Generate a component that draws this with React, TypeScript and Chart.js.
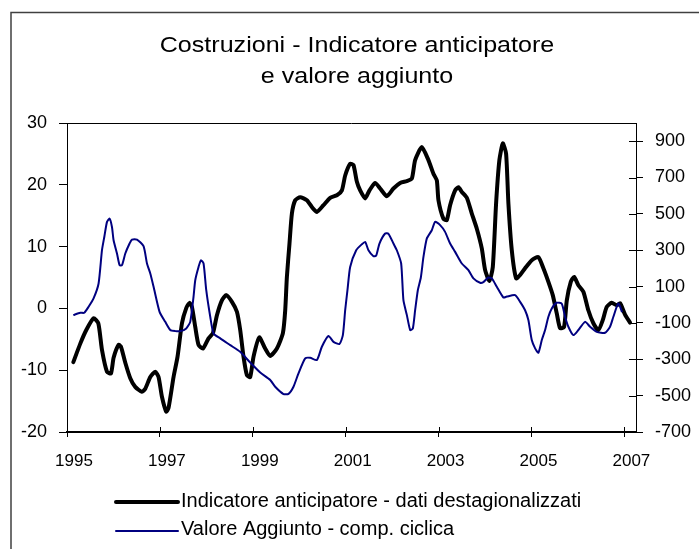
import React, { useEffect, useRef } from "react";
import { Chart, registerables } from "chart.js";

Chart.register(...registerables);

const TITLE_LINES = ["Costruzioni - Indicatore anticipatore", "e valore aggiunto"];
const LEGEND_LABELS = [
  "Indicatore anticipatore - dati destagionalizzati",
  "Valore Aggiunto - comp. ciclica",
];
const YEAR_TICKS = [1995, 1997, 1999, 2001, 2003, 2005, 2007];
const LEFT_TICKS = [-20, -10, 0, 10, 20, 30];
const RIGHT_TICKS = [-700, -500, -300, -100, 100, 300, 500, 700, 900];

// Indicatore anticipatore (left axis)
const indicatorDates = [
  1995.136, 1995.286, 1995.415, 1995.572, 1995.674, 1995.753, 1995.861, 1995.947,
  1996.003, 1996.11, 1996.162, 1996.255, 1996.362, 1996.469, 1996.614, 1996.685,
  1996.793, 1996.9, 1996.971, 1997.044, 1997.137, 1997.186, 1997.294, 1997.38,
  1997.475, 1997.567, 1997.638, 1997.69, 1997.761, 1997.832, 1997.927, 1998.047,
  1998.142, 1998.228, 1998.335, 1998.428, 1998.551, 1998.658, 1998.729, 1998.8,
  1998.873, 1998.944, 1999.016, 1999.14, 1999.267, 1999.375, 1999.519, 1999.648,
  1999.698, 1999.734, 1999.79, 1999.842, 1999.913, 2000.02, 2000.165, 2000.272,
  2000.38, 2000.522, 2000.666, 2000.81, 2000.918, 2000.989, 2001.096, 2001.167,
  2001.241, 2001.312, 2001.419, 2001.512, 2001.634, 2001.742, 2001.886, 2002.028,
  2002.172, 2002.317, 2002.424, 2002.495, 2002.639, 2002.781, 2002.889, 2002.962,
  2002.997, 2003.104, 2003.177, 2003.248, 2003.356, 2003.427, 2003.5, 2003.608,
  2003.715, 2003.823, 2003.93, 2004.002, 2004.094, 2004.167, 2004.238, 2004.309,
  2004.382, 2004.453, 2004.503, 2004.576, 2004.669, 2004.755, 2004.862, 2005.006,
  2005.148, 2005.256, 2005.364, 2005.458, 2005.544, 2005.615, 2005.701, 2005.76,
  2005.846, 2005.917, 2006.009, 2006.117, 2006.224, 2006.332, 2006.44, 2006.534,
  2006.62, 2006.728, 2006.836, 2006.907, 2007.014, 2007.122,
];
const indicatorValues = [
  -8.7, -5.7, -3.5, -1.6, -2.4, -6.7, -10.25, -10.5,
  -8.0, -5.9, -6.2, -8.8, -11.3, -12.7, -13.5, -13.0,
  -11.1, -10.25, -11.1, -14.3, -16.7, -16.1, -11.1, -7.8,
  -2.4, 0.05, 0.9, 0.25, -3.0, -5.9, -6.5, -4.85,
  -4.0, -1.1, 1.3, 2.15, 1.06, -0.55, -3.5, -7.8,
  -10.8, -11.1, -7.8, -4.7, -6.5, -7.7, -6.5, -4.0,
  -0.3, 5.1, 10.5, 15.35, 17.5, 18.0, 17.5, 16.4,
  15.6, 16.7, 17.9, 18.3, 19.1, 21.5, 23.4, 23.2,
  20.5, 19.1, 17.8, 19.1, 20.3, 19.4, 18.15, 19.4,
  20.3, 20.6, 21.0, 24.0, 26.1, 24.0, 21.8, 20.7,
  17.5, 14.5, 14.3, 16.7, 19.1, 19.6, 18.85, 17.9,
  15.35, 12.9, 9.7, 6.2, 4.45, 6.7, 17.0, 24.0,
  26.7, 25.05, 17.0, 9.4, 4.85, 5.4, 6.5, 7.8,
  8.3, 6.5, 4.3, 2.15, -0.8, -3.2, -3.0, 1.3,
  4.3, 5.1, 3.75, 2.7, -0.3, -2.4, -3.5, -1.9,
  0.25, 0.9, 0.5, 0.85, -1.0, -2.3,
];

// Valore aggiunto - componente ciclica (right axis)
const valueAddedDates = [
  1995.136, 1995.286, 1995.372, 1995.465, 1995.572, 1995.68, 1995.753, 1995.803,
  1995.861, 1995.917, 1995.968, 1996.003, 1996.076, 1996.132, 1996.184, 1996.255,
  1996.347, 1996.399, 1996.506, 1996.648, 1996.722, 1996.793, 1996.864, 1996.993,
  1997.115, 1997.223, 1997.33, 1997.438, 1997.567, 1997.653, 1997.724, 1997.761,
  1997.832, 1997.884, 1997.94, 1997.998, 1998.084, 1998.155, 1998.299, 1998.514,
  1998.729, 1998.944, 1999.16, 1999.375, 1999.482, 1999.661, 1999.769, 1999.876,
  1999.984, 2000.128, 2000.236, 2000.38, 2000.487, 2000.63, 2000.737, 2000.866,
  2000.939, 2000.989, 2001.038, 2001.096, 2001.226, 2001.348, 2001.419, 2001.49,
  2001.598, 2001.656, 2001.727, 2001.85, 2001.921, 2002.028, 2002.101, 2002.194,
  2002.243, 2002.317, 2002.388, 2002.446, 2002.495, 2002.553, 2002.618, 2002.674,
  2002.747, 2002.854, 2002.925, 2003.033, 2003.14, 2003.248, 2003.356, 2003.5,
  2003.642, 2003.75, 2003.894, 2003.965, 2004.072, 2004.146, 2004.253, 2004.395,
  2004.468, 2004.647, 2004.755, 2004.862, 2004.933, 2005.006, 2005.078, 2005.148,
  2005.222, 2005.293, 2005.364, 2005.437, 2005.544, 2005.652, 2005.723, 2005.794,
  2005.902, 2006.009, 2006.153, 2006.261, 2006.405, 2006.584, 2006.691, 2006.763,
  2006.87, 2006.95,
];
const valueAddedValues = [
  -57, -44, -44, -11, 35, 117, 300, 373,
  456, 474, 428, 355, 282, 218, 218, 282,
  337, 359, 359, 322, 227, 172, 99, -39,
  -94, -139, -145, -145, -130, -94, 44, 135,
  208, 245, 227, 80, -66, -158, -185, -222,
  -259, -318, -373, -414, -451, -491, -490, -451,
  -377, -295, -292, -304, -231, -172, -204, -216,
  -167, -30, 80, 208, 300, 333, 346, 300,
  267, 270, 337, 392, 390, 337, 300, 227,
  25, -57, -139, -130, -30, 80, 150, 263,
  365, 410, 456, 438, 401, 337, 291, 227,
  190, 145, 121, 125, 150, 145, 99, 40,
  45, 53, 16, -30, -84, -194, -240, -264,
  -194, -139, -66, -20, 11, 6, -66, -121,
  -167, -139, -94, -121, -149, -154, -121, -66,
  7, -40,
];

const FONT = '"Liberation Sans", Arial, sans-serif';

export default function App() {
  const ref = useRef<HTMLCanvasElement | null>(null);

  useEffect(() => {
    const canvas = ref.current;
    if (!canvas) return;

    const decor = {
      id: "decor",
      beforeDraw(chart: any) {
        const ctx = chart.ctx;
        ctx.save();
        ctx.fillStyle = "#ffffff";
        ctx.fillRect(0, 0, chart.width, chart.height);
        ctx.strokeStyle = "#404040";
        ctx.lineWidth = 1.5;
        ctx.beginPath();
        ctx.moveTo(11, chart.height + 10);
        ctx.lineTo(11, 12.5);
        ctx.lineTo(chart.width + 10, 12.5);
        ctx.stroke();
        ctx.restore();
      },
      afterDraw(chart: any) {
        const ctx = chart.ctx;
        const area = chart.chartArea;
        const xs = chart.scales.x;
        const y2 = chart.scales.y2;
        ctx.save();
        ctx.strokeStyle = "#000";
        ctx.lineWidth = 1;
        ctx.beginPath();
        ctx.moveTo(area.left, Math.round(area.top) + 0.5);
        ctx.lineTo(area.right, Math.round(area.top) + 0.5);
        // inward parts of crossing ticks
        YEAR_TICKS.forEach((v) => {
          const px = Math.round(xs.getPixelForValue(v)) + 0.5;
          ctx.moveTo(px, area.bottom);
          ctx.lineTo(px, area.bottom - 5);
        });
        RIGHT_TICKS.forEach((v) => {
          const py = Math.round(y2.getPixelForValue(v)) + 0.5;
          ctx.moveTo(area.right, py);
          ctx.lineTo(area.right - 7, py);
        });
        ctx.stroke();

        // Title
        ctx.fillStyle = "#000";
        ctx.font = `22px ${FONT}`;
        ctx.textAlign = "center";
        ctx.textBaseline = "alphabetic";
        const baselines = [52, 83];
        TITLE_LINES.forEach((t, i) => {
          ctx.save();
          ctx.translate(357, baselines[i]);
          ctx.scale(1.14, 1);
          ctx.fillText(t, 0, 0);
          ctx.restore();
        });

        // Legend
        const ds = chart.data.datasets;
        const legendRows = [
          { y: 502, base: 507, ds: ds[1] },
          { y: 531, base: 535, ds: ds[0] },
        ];
        ctx.font = `20px ${FONT}`;
        ctx.textAlign = "left";
        legendRows.forEach((row, i) => {
          ctx.strokeStyle = row.ds.borderColor;
          ctx.lineWidth = row.ds.borderWidth;
          ctx.lineCap = "round";
          ctx.beginPath();
          ctx.moveTo(116, row.y);
          ctx.lineTo(178, row.y);
          ctx.stroke();
          ctx.fillStyle = "#000";
          ctx.fillText(LEGEND_LABELS[i], 181, row.base);
        });
        ctx.restore();
      },
    };

    const chart = new Chart(canvas, {
      type: "line",
      data: {
        datasets: [
          {
            label: LEGEND_LABELS[1],
            data: valueAddedDates.map((d, i) => ({ x: d, y: valueAddedValues[i] })),
            yAxisID: "y2",
            borderColor: "#000080",
            borderWidth: 2,
            pointRadius: 0,
            tension: 0.2,
            fill: false,
            order: 0,
          },
          {
            label: LEGEND_LABELS[0],
            data: indicatorDates.map((d, i) => ({ x: d, y: indicatorValues[i] })),
            yAxisID: "y",
            borderColor: "#000000",
            borderWidth: 4,
            pointRadius: 0,
            tension: 0.2,
            borderJoinStyle: "round",
            borderCapStyle: "round",
            fill: false,
            order: 1,
          },
        ],
      },
      options: {
        responsive: false,
        animation: false,
        devicePixelRatio: 1,
        layout: { padding: { top: 123, left: 0, right: 0, bottom: 0 } },
        plugins: {
          legend: { display: false },
          title: { display: false },
          tooltip: { enabled: false },
        },
        scales: {
          x: {
            type: "linear",
            min: 1995,
            max: 2007.25,
            afterBuildTicks: (s: any) => {
              s.ticks = YEAR_TICKS.map((v) => ({ value: v }));
            },
            afterFit: (s: any) => {
              s.height = 117;
            },
            grid: { drawOnChartArea: false, drawTicks: true, tickLength: 5, color: "#000", lineWidth: 1 },
            border: { display: true, color: "#000", width: 2 },
            ticks: {
              color: "#000",
              font: { family: FONT, size: 17 },
              padding: 14,
              labelOffset: 7,
              autoSkip: false,
              maxRotation: 0,
              callback: (v: any) => String(v),
            },
          },
          y: {
            type: "linear",
            position: "left",
            min: -20,
            max: 30,
            afterBuildTicks: (s: any) => {
              s.ticks = LEFT_TICKS.map((v) => ({ value: v }));
            },
            afterFit: (s: any) => {
              s.width = 67;
            },
            grid: { drawOnChartArea: false, drawTicks: true, tickLength: 8, color: "#000", lineWidth: 1 },
            border: { display: true, color: "#000", width: 1 },
            ticks: {
              color: "#000",
              font: { family: FONT, size: 18 },
              padding: 12,
              callback: (v: any) => String(v),
            },
          },
          y2: {
            type: "linear",
            position: "right",
            min: -700,
            max: 1000,
            afterBuildTicks: (s: any) => {
              s.ticks = RIGHT_TICKS.map((v) => ({ value: v }));
            },
            afterFit: (s: any) => {
              s.width = 63;
            },
            grid: { drawOnChartArea: false, drawTicks: true, tickLength: 7, color: "#000", lineWidth: 1 },
            border: { display: true, color: "#000", width: 1 },
            ticks: {
              color: "#000",
              font: { family: FONT, size: 18 },
              padding: 12,
              callback: (v: any) => String(v),
            },
          },
        },
      },
      plugins: [decor],
    } as any);

    return () => chart.destroy();
  }, []);

  return (
    <div style={{ position: "absolute", left: 0, top: 0, width: 699, height: 549 }}>
      <canvas ref={ref} width={699} height={549} style={{ display: "block", width: 699, height: 549 }} />
    </div>
  );
}
